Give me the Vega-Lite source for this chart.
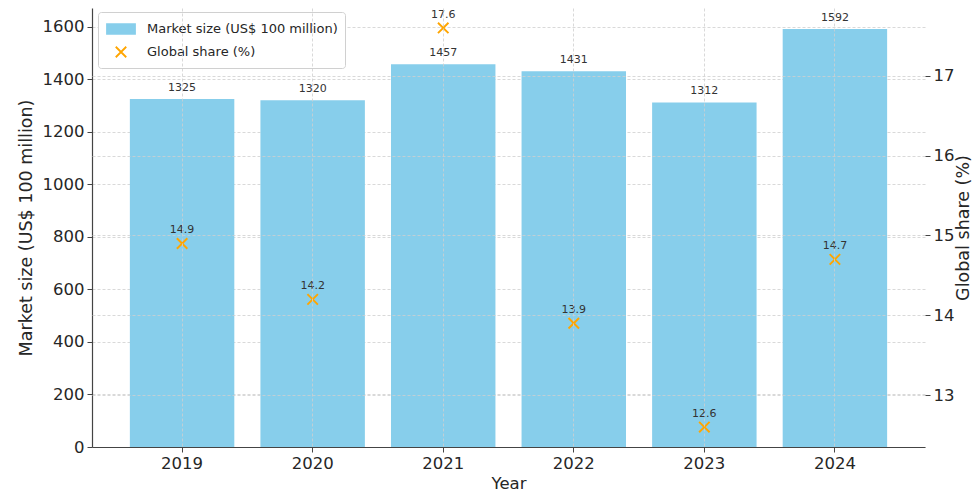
{
  "$schema": "https://vega.github.io/schema/vega-lite/v6.json",
  "width": 833,
  "height": 439,
  "autosize": {"type": "none"},
  "padding": {"left": 92, "top": 8, "right": 49, "bottom": 46},
  "background": "white",
  "config": {
    "font": "DejaVu Sans",
    "view": {"stroke": null},
    "axis": {
      "labelFont": "DejaVu Sans",
      "titleFont": "DejaVu Sans",
      "labelFontSize": 16.5,
      "titleFontSize": 17.5,
      "titleFontWeight": "normal",
      "labelColor": "#262626",
      "titleColor": "#262626",
      "tickColor": "#444444",
      "domainColor": "#444444",
      "gridColor": "#cfcfcf",
      "gridDash": [3, 2],
      "gridWidth": 0.8
    }
  },
  "data": {
    "values": [
      {"Year": "2019", "size": 1325, "share": 14.9},
      {"Year": "2020", "size": 1320, "share": 14.2},
      {"Year": "2021", "size": 1457, "share": 17.6},
      {"Year": "2022", "size": 1431, "share": 13.9},
      {"Year": "2023", "size": 1312, "share": 12.6},
      {"Year": "2024", "size": 1592, "share": 14.7}
    ]
  },
  "encoding": {
    "x": {
      "field": "Year",
      "type": "ordinal",
      "scale": {"paddingInner": 0.2, "paddingOuter": 0.29},
      "axis": {
        "title": "Year",
        "titleFontSize": 16.5,
        "labelAngle": 0,
        "bandPosition": 0.5,
        "grid": true,
        "zindex": 1,
        "domainWidth": 1.2,
        "tickSize": 5,
        "labelPadding": 3,
        "titlePadding": 4
      }
    }
  },
  "layer": [
    {
      "layer": [
        {
          "mark": {"type": "bar", "color": "#87CEEB"},
          "encoding": {
            "y": {
              "field": "size",
              "type": "quantitative",
              "scale": {"domain": [0, 1671.6], "nice": false},
              "axis": {
                "title": "Market size (US$ 100 million)",
                "format": "d",
                "values": [0, 200, 400, 600, 800, 1000, 1200, 1400, 1600],
                "grid": true,
                "domainWidth": 1.2,
                "tickSize": 5,
                "labelPadding": 3,
                "titlePadding": 7
              }
            },
            "color": {
              "datum": "Market size (US$ 100 million)",
              "type": "nominal",
              "scale": {
                "domain": ["Market size (US$ 100 million)", "Global share (%)"],
                "range": ["#87CEEB", "#FFA500"]
              },
              "legend": {
                "title": null,
                "orient": "none",
                "legendX": 6,
                "legendY": 4,
                "padding": 7,
                "strokeColor": "#d0d0d0",
                "fillColor": "white",
                "cornerRadius": 3,
                "labelFont": "DejaVu Sans",
                "labelFontSize": 13,
                "labelColor": "#262626",
                "labelLimit": 400,
                "symbolSize": 306,
                "labelOffset": 16,
                "rowPadding": 4,
                "symbolOffset": 6,
                "encode": {
                  "symbols": {
                    "update": {
                      "shape": [
                        {"test": "datum.value === 'Global share (%)'", "value": "M-0.6,-0.6L0.6,0.6M-0.6,0.6L0.6,-0.6"},
                        {"value": "M-1.6,-0.55H1.6V0.55H-1.6Z"}
                      ],
                      "fill": [
                        {"test": "datum.value === 'Global share (%)'", "value": "transparent"},
                        {"value": "#87CEEB"}
                      ],
                      "stroke": [
                        {"test": "datum.value === 'Global share (%)'", "value": "#FFA500"},
                        {"value": "transparent"}
                      ],
                      "strokeWidth": {"value": 1.8},
                      "opacity": {"value": 1}
                    }
                  }
                }
              }
            }
          }
        },
        {
          "mark": {"type": "text", "baseline": "bottom", "dy": -6, "fontSize": 11, "color": "#333333"},
          "encoding": {
            "y": {"field": "size", "type": "quantitative"},
            "text": {"field": "size", "type": "quantitative", "format": "d"}
          }
        }
      ]
    },
    {
      "layer": [
        {
          "mark": {
            "type": "point",
            "shape": "M-1,-1L1,1M-1,1L1,-1",
            "filled": false,
            "size": 110,
            "strokeWidth": 1.9,
            "opacity": 1
          },
          "encoding": {
            "y": {
              "field": "share",
              "type": "quantitative",
              "scale": {"domain": [12.35, 17.85], "nice": false, "zero": false},
              "axis": {
                "title": "Global share (%)",
                "orient": "right",
                "titleAngle": 270,
                "format": "d",
                "values": [13, 14, 15, 16, 17],
                "grid": true,
                "zindex": 1,
                "domain": false,
                "tickSize": 5,
                "labelPadding": 3,
                "titlePadding": 19
              }
            },
            "color": {"datum": "Global share (%)", "type": "nominal"}
          }
        },
        {
          "mark": {"type": "text", "baseline": "bottom", "dy": -8, "fontSize": 11, "color": "#333333"},
          "encoding": {
            "y": {"field": "share", "type": "quantitative"},
            "text": {"field": "share", "type": "quantitative", "format": ".1f"}
          }
        }
      ]
    }
  ],
  "resolve": {"scale": {"y": "independent"}}
}
